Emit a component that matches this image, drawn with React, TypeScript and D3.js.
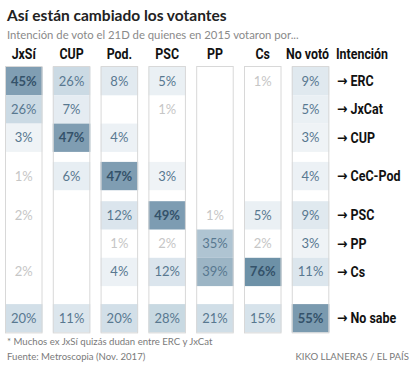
import React from "react";
import * as d3 from "d3";

const parties = ["JxSí", "CUP", "Pod.", "PSC", "PP", "Cs", "No votó"];
const intentions = ["ERC", "JxCat", "CUP", "CeC-Pod", "PSC", "PP", "Cs", "No sabe"];
const rowGroup = [0, 0, 0, 1, 2, 2, 2, 3];

// % de cada electorado 2015 (columna) que vota a cada partido (fila)
const jxsi = [45, 26, 3, 1, 2, null, 2, 20];
const cup = [26, 7, 47, 6, null, null, null, 11];
const pod = [8, null, 4, 47, 12, 1, 4, 20];
const psc = [5, 1, null, 3, 49, 2, 12, 28];
const pp = [null, null, null, null, 1, 35, 39, 21];
const cs = [1, null, null, null, 5, 2, 76, 15];
const novoto = [9, 5, 3, 4, 9, 3, 11, 55];
const columns = [jxsi, cup, pod, psc, pp, cs, novoto];

const width = 414;
const height = 365;
const top = 67;
const rowH = 28.3;
const groupGap = [0, 10, 21, 39];
const cond = "Roboto, 'DejaVu Sans', sans-serif";
const sans = "Lato, 'Open Sans', sans-serif";

// texto estrecho: Roboto bold comprimido en horizontal
function Narrow(props: {
  x: number;
  y: number;
  anchor?: string;
  size: number;
  sx?: number;
  children: any;
}) {
  return (
    <text
      transform={`translate(${props.x},${props.y}) scale(${props.sx || 0.86},1)`}
      textAnchor={props.anchor || "start"}
      fontFamily={cond}
      fontWeight={700}
      fontSize={props.size}
      fill="#111"
    >
      {props.children}
    </text>
  );
}

export default function App() {
  const x = d3
    .scaleBand<string>()
    .domain(parties)
    .range([5, 329.3])
    .paddingInner(0.215)
    .paddingOuter(0);

  const y = (i: number) => top + i * rowH + groupGap[rowGroup[i]];
  const bottom = y(intentions.length - 1) + rowH;

  const color = d3
    .scaleLinear<string>()
    .domain([2.5, 10, 30, 45, 80])
    .range(["#f0f4f7", "#dde7ee", "#c6d7e1", "#809eb3", "#6a8fa6"])
    .clamp(true);

  const textColor = (v: number) =>
    v <= 2 ? "#c6c6c6" : v >= 45 ? "#34526a" : "#587890";

  return (
    <svg
      width={width}
      height={height}
      style={{ position: "absolute", left: 0, top: 0, background: "#fff" }}
    >
      <text x={7} y={21} fontFamily={sans} fontWeight={700} fontSize={15.5} fill="#222">
        Así están cambiado los votantes
      </text>
      <text x={7} y={39} fontFamily={sans} fontSize={11.3} fill="#8a8a8a">
        Intención de voto el 21D de quienes en 2015 votaron por...
      </text>

      {parties.map((p) => (
        <Narrow
          key={p}
          x={x(p)! + x.bandwidth() / 2 - (p === "No votó" ? 3 : 0)}
          y={59}
          anchor="middle"
          size={15.5}
          sx={0.8}
        >
          {p}
        </Narrow>
      ))}
      <Narrow x={336} y={59} size={15.5} sx={0.8}>
        Intención
      </Narrow>

      {columns.map((col, ci) => {
        const cx = x(parties[ci])!;
        return (
          <g key={ci}>
            {col.map((v, ri) =>
              v != null && v > 2 ? (
                <rect
                  key={ri}
                  x={cx}
                  y={y(ri)}
                  width={x.bandwidth()}
                  height={rowH}
                  fill={color(v)}
                />
              ) : null
            )}
            <rect
              x={cx + 0.5}
              y={top - 0.5}
              width={x.bandwidth() - 1}
              height={bottom - top + 1}
              fill="none"
              stroke="#d8d8d8"
              strokeWidth={1}
            />
            {col.map((v, ri) =>
              v != null ? (
                <text
                  key={"t" + ri}
                  x={cx + x.bandwidth() / 2}
                  y={y(ri) + rowH / 2 + 4.5}
                  textAnchor="middle"
                  fontFamily={sans}
                  fontSize={13}
                  fontWeight={v >= 45 ? 700 : 400}
                  fill={textColor(v)}
                >
                  {v}%
                </text>
              ) : null
            )}
          </g>
        );
      })}

      {intentions.map((r, ri) => (
        <Narrow key={r} x={337} y={y(ri) + rowH / 2 + 5} size={14.5}>
          → {r}
        </Narrow>
      ))}

      <text x={7} y={345} fontFamily={sans} fontSize={9.6} fill="#7a7a7a">
        * Muchos ex JxSí quizás dudan entre ERC y JxCat
      </text>
      <text x={7} y={360} fontFamily={sans} fontSize={9.6} fill="#7a7a7a">
        Fuente: Metroscopia (Nov. 2017)
      </text>
      <text x={409} y={360} textAnchor="end" fontFamily={sans} fontSize={9.6} fill="#7a7a7a">
        KIKO LLANERAS / EL PAÍS
      </text>
    </svg>
  );
}
